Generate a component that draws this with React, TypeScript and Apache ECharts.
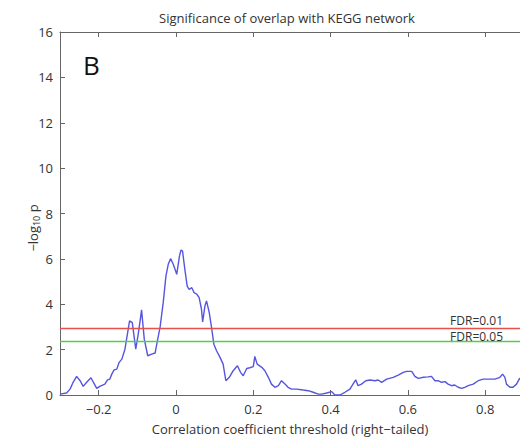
import React, { useEffect, useRef } from "react";
import * as echarts from "echarts";

const thresholds = [
  -0.300, -0.283, -0.274, -0.266, -0.257, -0.248, -0.240, -0.231, -0.220, -0.211,
  -0.205, -0.197, -0.184, -0.177, -0.171, -0.166, -0.160, -0.153, -0.147, -0.140,
  -0.132, -0.125, -0.120, -0.113, -0.104, -0.097, -0.089, -0.082, -0.073, -0.063,
  -0.054, -0.049, -0.041, -0.033, -0.026, -0.020, -0.014, -0.007, 0.002, 0.009,
  0.013, 0.017, 0.023, 0.029, 0.034, 0.041, 0.047, 0.054, 0.060, 0.066,
  0.069, 0.075, 0.079, 0.086, 0.092, 0.098, 0.105, 0.114, 0.122, 0.129,
  0.138, 0.148, 0.159, 0.167, 0.174, 0.183, 0.191, 0.200, 0.204, 0.210,
  0.222, 0.230, 0.239, 0.247, 0.256, 0.265, 0.273, 0.282, 0.290, 0.299,
  0.312, 0.329, 0.342, 0.355, 0.368, 0.377, 0.390, 0.403, 0.411, 0.424,
  0.437, 0.450, 0.458, 0.465, 0.471, 0.480, 0.491, 0.502, 0.515, 0.523,
  0.532, 0.545, 0.562, 0.575, 0.588, 0.597, 0.610, 0.618, 0.627, 0.640,
  0.652, 0.661, 0.670, 0.678, 0.687, 0.696, 0.704, 0.713, 0.721, 0.730,
  0.739, 0.747, 0.756, 0.769, 0.782, 0.795, 0.808, 0.825, 0.838, 0.845,
  0.851, 0.855, 0.864, 0.872, 0.881, 0.888, 0.895,
];

const negLogP = [
  0.04, 0.09, 0.26, 0.56, 0.82, 0.63, 0.38, 0.56, 0.76, 0.48,
  0.29, 0.38, 0.48, 0.67, 0.70, 0.92, 1.11, 1.14, 1.44, 1.58,
  2.02, 2.75, 3.27, 3.19, 2.02, 2.75, 3.75, 2.46, 1.73, 1.80,
  1.85, 2.30, 3.00, 4.07, 5.24, 5.76, 6.01, 5.76, 5.32, 6.12,
  6.39, 6.34, 5.54, 4.80, 4.66, 4.73, 4.51, 4.44, 4.29, 3.78,
  3.22, 3.93, 4.15, 3.64, 2.98, 2.24, 1.95, 1.66, 1.36, 0.63,
  0.78, 1.07, 1.29, 1.00, 0.85, 1.17, 1.20, 1.25, 1.70, 1.36,
  1.22, 1.07, 0.78, 0.48, 0.34, 0.41, 0.63, 0.48, 0.34, 0.26,
  0.26, 0.22, 0.19, 0.12, 0.04, 0.04, 0.09, 0.15, 0.00, 0.00,
  0.12, 0.26, 0.48, 0.67, 0.41, 0.48, 0.63, 0.66, 0.63, 0.66,
  0.56, 0.70, 0.78, 0.88, 1.00, 1.04, 1.04, 0.82, 0.73, 0.78,
  0.80, 0.82, 0.63, 0.63, 0.56, 0.59, 0.48, 0.41, 0.44, 0.34,
  0.29, 0.34, 0.41, 0.48, 0.63, 0.70, 0.70, 0.70, 0.78, 0.92,
  0.78, 0.48, 0.34, 0.34, 0.48, 0.70, 0.80,
];

const xTicks = [-0.2, 0, 0.2, 0.4, 0.6, 0.8];
const fdrLevels = [
  { name: "FDR=0.01", value: 2.93, color: "#e8504a" },
  { name: "FDR=0.05", value: 2.36, color: "#4fd24a" },
];

const FONT = "'Open Sans', 'Noto Sans', sans-serif";
const TEXT = "#333333";
const AXIS = "#666666";

export default function App() {
  const ref = useRef<HTMLDivElement>(null);
  useEffect(() => {
    if (!ref.current) return;
    const chart = echarts.init(ref.current, undefined, { renderer: "svg" });
    const data = thresholds.map((x, i) => [x, negLogP[i]]);
    chart.setOption({
      animation: false,
      backgroundColor: "#ffffff",
      textStyle: { fontFamily: FONT },
      title: {
        text: "Significance of overlap with KEGG network",
        left: 282,
        top: 6,
        textAlign: "center",
        textStyle: { fontFamily: FONT, fontSize: 13, fontWeight: "normal", color: TEXT },
      },
      grid: { left: 60, right: 0, top: 32, bottom: 45, containLabel: false, outerBoundsMode: "none" },
      xAxis: [
        {
          type: "value",
          min: -0.3,
          max: 0.89,
          position: "bottom",
          axisLine: { show: true, onZero: false, lineStyle: { color: AXIS, width: 1 } },
          axisTick: { show: true, inside: true, length: 5, customValues: xTicks, lineStyle: { color: AXIS } },
          axisLabel: {
            customValues: xTicks,
            color: TEXT,
            fontSize: 13,
            fontFamily: FONT,
            margin: 7,
            formatter: (v: number) => (v < 0 ? "\u2212" + Math.abs(v) : String(v)),
          },
          splitLine: { show: false },
          name: "Correlation coefficient threshold (right\u2212tailed)",
          nameLocation: "middle",
          nameGap: 27,
          nameTextStyle: { color: TEXT, fontSize: 13, fontFamily: FONT },
        },
        {
          type: "value",
          min: -0.3,
          max: 0.89,
          position: "top",
          axisLine: { show: true, onZero: false, lineStyle: { color: AXIS, width: 1 } },
          axisTick: { show: true, inside: true, length: 5, customValues: xTicks, lineStyle: { color: AXIS } },
          axisLabel: { show: false },
          splitLine: { show: false },
        },
      ],
      yAxis: {
        type: "value",
        min: 0,
        max: 16,
        interval: 2,
        position: "left",
        axisLine: { show: true, onZero: false, lineStyle: { color: AXIS, width: 1 } },
        axisTick: { show: true, inside: true, length: 5, lineStyle: { color: AXIS } },
        axisLabel: { color: TEXT, fontSize: 13, fontFamily: FONT, margin: 7 },
        splitLine: { show: false },
      },
      graphic: [
        {
          type: "text",
          x: 83,
          y: 52,
          style: { text: "B", fontSize: 26, fontFamily: FONT, fill: "#111111" },
        },
        {
          type: "text",
          x: 33,
          y: 228,
          rotation: Math.PI / 2,
          style: {
            text: "{a|\u2212log}{s|10}{a| p}",
            align: "center",
            verticalAlign: "middle",
            rich: {
              a: { fontSize: 13, fontFamily: FONT, fill: TEXT },
              s: { fontSize: 9, fontFamily: FONT, fill: TEXT, verticalAlign: "bottom", padding: [6, 0, 0, 0] },
            },
          },
        },
      ],
      series: [
        {
          type: "line",
          data,
          showSymbol: false,
          symbol: "none",
          lineStyle: { color: "#5555e0", width: 1.4 },
          clip: true,
          markLine: {
            silent: true,
            symbol: "none",
            data: fdrLevels.map((f, i) => ({
              yAxis: f.value,
              lineStyle: { color: f.color, width: 1.3, type: "solid" },
              label: {
                show: true,
                formatter: f.name,
                position: "insideEndTop",
                distance: [17, i === 0 ? 3 : 0],
                color: TEXT,
                fontSize: 12,
                fontFamily: FONT,
                lineHeight: 10,
              },
            })),
          },
        },
      ],
    });
    return () => chart.dispose();
  }, []);
  return (
    <div
      ref={ref}
      style={{ position: "absolute", left: 0, top: 0, width: 520, height: 440 }}
    />
  );
}
